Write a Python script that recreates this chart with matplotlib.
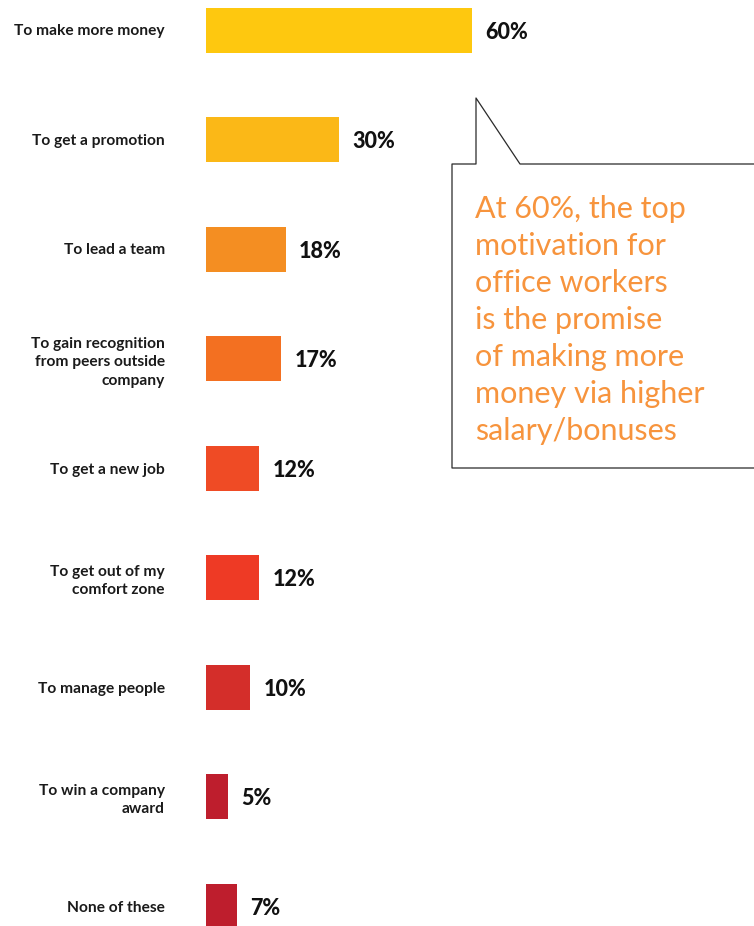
import matplotlib

matplotlib.use("Agg")
import matplotlib.pyplot as plt
from matplotlib.lines import Line2D

reasons = [
    "To make more money",
    "To get a promotion",
    "To lead a team",
    "To gain recognition\nfrom peers outside\ncompany",
    "To get a new job",
    "To get out of my\ncomfort zone",
    "To manage people",
    "To win a company\naward",
    "None of these",
]
shares = [60, 30, 18, 17, 12, 12, 10, 5, 7]
bar_colors = [
    "#FEC80F", "#FBB817", "#F48E22", "#F37021", "#EF4B25",
    "#EE3A25", "#D42E2A", "#BE1E2D", "#BE1E2D",
]
callout = ("At 60%, the top\nmotivation for\noffice workers\nis the promise\n"
           "of making more\nmoney via higher\nsalary/bonuses")

W, H = 754, 926
fig = plt.figure(figsize=(W / 100, H / 100), dpi=100)

# bar area: zero line at x=206px, 60% reaches ~472px
x0 = 206
px_per_pct = 266 / 60
ax = fig.add_axes([x0 / W, 0, (W - x0) / W, 1])
ax.set_xlim(0, (W - x0) / px_per_pct)
step = 109.5
ax.set_ylim((H - 30) / step, -30 / step)

ypos = list(range(len(reasons)))
ax.barh(ypos, shares, height=45 / step, color=bar_colors)

for y, v in zip(ypos, shares):
    ax.text(v + 13 / px_per_pct, y + 0.02, f"{v}%", va="center", ha="left",
            fontsize=15.5, fontweight="black", family="Lato", color="#111111")

ax.set_yticks(ypos)
ax.set_yticklabels(reasons, fontsize=11.2, fontweight="bold", family="Lato",
                   color="#1a1a1a", linespacing=1.4)
ax.tick_params(axis="y", length=0, pad=(x0 - 165) * 0.72)
ax.set_xticks([])
for s in ax.spines.values():
    s.set_visible(False)

# speech-bubble callout on a pixel overlay
ov = fig.add_axes([0, 0, 1, 1])
ov.set_xlim(0, W)
ov.set_ylim(H, 0)
ov.axis("off")
ov.patch.set_alpha(0)
bx = [W, 520, 476, 476, 452, 452, W]
by = [164, 164, 98, 164, 164, 468, 468]
ov.add_line(Line2D(bx, by, color="#2a2a2a", lw=0.9))
ov.text(475, 195, callout, ha="left", va="top", fontsize=22,
        family="Lato", fontweight="normal", color="#F7943D", linespacing=1.39)

fig.savefig("out.png", dpi=100)
